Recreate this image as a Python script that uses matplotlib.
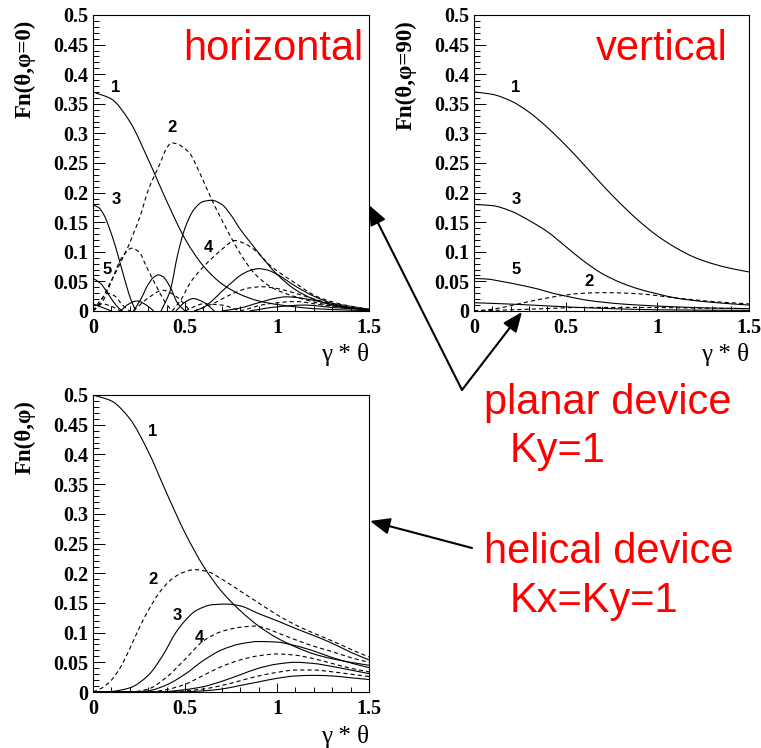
import numpy as np
import matplotlib
matplotlib.use('Agg')
import matplotlib.pyplot as plt
from matplotlib.patches import FancyArrowPatch, PathPatch
from matplotlib.path import Path
from matplotlib.ticker import MultipleLocator, FuncFormatter

# ---- panel 1: planar, horizontal (phi=0) ----
h1_x = [0, 0.1, 0.2, 0.3, 0.4, 0.5, 0.6, 0.7, 0.8, 0.9, 1.0, 1.1, 1.2, 1.35, 1.5]
h1_y = [0.370, 0.358, 0.320, 0.256, 0.186, 0.122, 0.076, 0.046, 0.028, 0.017, 0.011, 0.007, 0.004, 0.002, 0.0005]
h3_x = [0, 0.03, 0.06, 0.09, 0.12, 0.15, 0.18, 0.205, 0.23]
h3_y = [0.179, 0.175, 0.162, 0.139, 0.111, 0.078, 0.045, 0.020, 0.002]
h5_x = [0, 0.04, 0.08, 0.11, 0.14, 0.16]
h5_y = [0.055, 0.047, 0.030, 0.016, 0.005, 0.0]
h7_x = [0, 0.05, 0.1]
h7_y = [0.012, 0.006, 0.0]
hsa_x = [0.22, 0.26, 0.3, 0.33, 0.355, 0.38, 0.42, 0.46, 0.5]
hsa_y = [0.0, 0.02, 0.045, 0.057, 0.061, 0.058, 0.04, 0.013, 0.0]
hsb_x = [0.37, 0.42, 0.46, 0.5, 0.55, 0.6, 0.645, 0.7, 0.75, 0.8, 0.85, 0.9, 1.0, 1.1, 1.2, 1.33, 1.5]
hsb_y = [0.0, 0.035, 0.095, 0.14, 0.172, 0.185, 0.187, 0.18, 0.162, 0.138, 0.118, 0.098, 0.062, 0.036, 0.020, 0.008, 0.002]
hsc_x = [0.55, 0.6, 0.65, 0.7, 0.75, 0.8, 0.85, 0.9, 0.95, 1.0, 1.1, 1.2, 1.3, 1.4, 1.5]
hsc_y = [0.0, 0.006, 0.018, 0.033, 0.047, 0.06, 0.068, 0.0715, 0.069, 0.062, 0.042, 0.025, 0.013, 0.006, 0.002]
hsd_x = [0.7, 0.8, 0.9, 1.0, 1.05, 1.1, 1.2, 1.3, 1.4, 1.5]
hsd_y = [0.0, 0.005, 0.014, 0.022, 0.024, 0.023, 0.018, 0.011, 0.005, 0.002]
hse_x = [0.15, 0.19, 0.24, 0.29, 0.33]
hse_y = [0.0, 0.011, 0.017, 0.010, 0.0]
hsf_x = [0.45, 0.5, 0.545, 0.6, 0.66]
hsf_y = [0.0, 0.015, 0.021, 0.015, 0.0]
hsg_x = [0.85, 1.0, 1.15, 1.3, 1.5]
hsg_y = [0.0, 0.007, 0.010, 0.006, 0.002]

h2_x = [0, 0.03, 0.056, 0.092, 0.125, 0.156, 0.19, 0.22, 0.255, 0.3, 0.364, 0.4, 0.427, 0.46, 0.5,
        0.527, 0.57, 0.618, 0.67, 0.727, 0.763, 0.806, 0.879, 0.97, 1.1, 1.28, 1.5]
h2_y = [0, 0.01, 0.024, 0.047, 0.066, 0.086, 0.108, 0.131, 0.159, 0.204, 0.249, 0.275, 0.284, 0.282, 0.274,
        0.266, 0.24, 0.207, 0.172, 0.138, 0.117, 0.094, 0.063, 0.040, 0.024, 0.010, 0.002]
h4a_x = [0, 0.05, 0.1, 0.156, 0.21, 0.25, 0.29, 0.346, 0.39, 0.43]
h4a_y = [0, 0.015, 0.05, 0.09, 0.106, 0.1, 0.075, 0.041, 0.016, 0.0]
h4b_x = [0.43, 0.48, 0.527, 0.58, 0.636, 0.708, 0.77, 0.83, 0.879, 0.97, 1.1, 1.22, 1.37, 1.5]
h4b_y = [0.0, 0.02, 0.047, 0.068, 0.086, 0.106, 0.119, 0.113, 0.103, 0.075, 0.047, 0.024, 0.010, 0.003]
h6a_x = [0, 0.04, 0.08, 0.12, 0.16, 0.2]
h6a_y = [0, 0.018, 0.030, 0.025, 0.010, 0]
h6b_x = [0.22, 0.3, 0.38, 0.45, 0.53]
h6b_y = [0, 0.022, 0.035, 0.025, 0]
h6c_x = [0.55, 0.65, 0.75, 0.85, 0.92, 1.0, 1.1, 1.25, 1.5]
h6c_y = [0, 0.012, 0.028, 0.039, 0.041, 0.038, 0.030, 0.016, 0.003]
h8a_x = [0, 0.05, 0.1, 0.15]
h8a_y = [0, 0.012, 0.008, 0]
h8b_x = [0.5, 0.6, 0.7, 0.8]
h8b_y = [0, 0.012, 0.010, 0]
h8c_x = [0.8, 0.95, 1.1, 1.25, 1.5]
h8c_y = [0, 0.012, 0.016, 0.010, 0.002]

# ---- panel 2: planar, vertical (phi=90) ----
v1_x = [0, 0.1, 0.2, 0.3, 0.4, 0.5, 0.6, 0.7, 0.8, 0.9, 1.0, 1.1, 1.2, 1.3, 1.4, 1.5]
v1_y = [0.37, 0.366, 0.355, 0.336, 0.31, 0.28, 0.247, 0.213, 0.181, 0.152, 0.127, 0.107, 0.091, 0.08, 0.072, 0.066]
v3_x = [0, 0.1, 0.2, 0.3, 0.4, 0.5, 0.6, 0.7, 0.8, 0.9, 1.0, 1.1, 1.25, 1.5]
v3_y = [0.18, 0.178, 0.169, 0.153, 0.134, 0.109, 0.084, 0.063, 0.048, 0.037, 0.029, 0.022, 0.016, 0.010]
v5_x = [0, 0.07, 0.15, 0.25, 0.35, 0.43, 0.52, 0.6, 0.7, 0.8, 0.9, 1.1, 1.3, 1.5]
v5_y = [0.055, 0.054, 0.05, 0.044, 0.037, 0.030, 0.024, 0.019, 0.015, 0.012, 0.010, 0.007, 0.005, 0.004]
v7_x = [0, 0.25, 0.5, 0.75, 1.0, 1.5]
v7_y = [0.014, 0.011, 0.007, 0.004, 0.002, 0.001]
v2_x = [0, 0.1, 0.2, 0.3, 0.4, 0.5, 0.6, 0.7, 0.8, 0.9, 1.0, 1.1, 1.2, 1.3, 1.4, 1.5]
v2_y = [0, 0.003, 0.009, 0.016, 0.022, 0.027, 0.030, 0.031, 0.0305, 0.029, 0.026, 0.022, 0.019, 0.016, 0.014, 0.012]
v4_x = [0, 0.3, 0.6, 0.9, 1.2, 1.5]
v4_y = [0, 0.003, 0.006, 0.006, 0.005, 0.004]

# ---- panel 3: helical Kx=Ky=1 ----
c1_x = [0, 0.1, 0.2, 0.3, 0.4, 0.5, 0.6, 0.7, 0.8, 0.9, 1.0, 1.1, 1.2, 1.3, 1.4, 1.5]
c1_y = [0.5, 0.49, 0.46, 0.405, 0.335, 0.268, 0.212, 0.169, 0.137, 0.111, 0.091, 0.076, 0.064, 0.056, 0.05, 0.045]
c3_x = [0, 0.1, 0.2, 0.3, 0.38, 0.45, 0.5, 0.56, 0.65, 0.73, 0.8, 0.9, 1.0, 1.1, 1.2, 1.3, 1.4, 1.5]
c3_y = [0, 0.001, 0.007, 0.028, 0.062, 0.1, 0.12, 0.137, 0.147, 0.148, 0.145, 0.132, 0.12, 0.107, 0.095, 0.082, 0.067, 0.054]
c5_x = [0, 0.2, 0.3, 0.4, 0.5, 0.6, 0.7, 0.8, 0.9, 1.0, 1.1, 1.2, 1.3, 1.4, 1.5]
c5_y = [0, 0, 0.002, 0.012, 0.03, 0.053, 0.071, 0.081, 0.085, 0.084, 0.078, 0.069, 0.058, 0.049, 0.041]
c7_x = [0, 0.35, 0.5, 0.6, 0.7, 0.8, 0.9, 1.0, 1.1, 1.2, 1.3, 1.4, 1.5]
c7_y = [0, 0, 0.004, 0.009, 0.018, 0.029, 0.04, 0.047, 0.05, 0.048, 0.043, 0.037, 0.031]
c9_x = [0, 0.45, 0.6, 0.7, 0.8, 0.9, 1.0, 1.1, 1.2, 1.3, 1.4, 1.5]
c9_y = [0, 0, 0.002, 0.005, 0.011, 0.017, 0.023, 0.027, 0.028, 0.027, 0.024, 0.021]
c2_x = [0, 0.05, 0.1, 0.15, 0.2, 0.25, 0.3, 0.36, 0.42, 0.48, 0.55, 0.62, 0.7, 0.8, 0.9, 1.0, 1.1, 1.2, 1.3, 1.4, 1.5]
c2_y = [0, 0.007, 0.02, 0.042, 0.073, 0.107, 0.137, 0.167, 0.188, 0.2, 0.206, 0.203, 0.19, 0.17, 0.15, 0.13, 0.113, 0.099, 0.086, 0.072, 0.059]
c4_x = [0, 0.2, 0.3, 0.4, 0.5, 0.6, 0.7, 0.8, 0.88, 0.95, 1.0, 1.1, 1.2, 1.3, 1.4, 1.5]
c4_y = [0, 0, 0.005, 0.025, 0.055, 0.086, 0.102, 0.109, 0.111, 0.106, 0.1, 0.088, 0.077, 0.068, 0.058, 0.05]
c6_x = [0, 0.3, 0.4, 0.5, 0.6, 0.7, 0.8, 0.9, 1.0, 1.1, 1.2, 1.3, 1.4, 1.5]
c6_y = [0, 0, 0.004, 0.013, 0.028, 0.043, 0.054, 0.061, 0.064, 0.062, 0.056, 0.048, 0.04, 0.034]
c8_x = [0, 0.4, 0.5, 0.6, 0.7, 0.8, 0.9, 1.0, 1.1, 1.2, 1.3, 1.4, 1.5]
c8_y = [0, 0, 0.002, 0.005, 0.011, 0.019, 0.027, 0.033, 0.037, 0.037, 0.034, 0.03, 0.026]

W, H = 761, 748
plt.rcParams['lines.scale_dashes'] = False
plt.rcParams['font.family'] = 'Liberation Serif'
plt.rcParams['font.weight'] = 'bold'
plt.rcParams['font.size'] = 14.5
sans = 'Liberation Sans'
solid = '-'
dash = (0, (3.0, 2.2))


def fx(px):
    return px / W


def fy(py):
    return 1 - py / H


def smooth_path(x, y):
    # monotone cubic (Fritsch-Carlson) tangents, drawn as Bezier segments through the read points
    x = np.asarray(x, float)
    y = np.asarray(y, float)
    h = np.diff(x)
    d = np.diff(y) / h
    m = np.zeros_like(y)
    m[0], m[-1] = d[0], d[-1]
    for k in range(1, len(x) - 1):
        if d[k - 1] * d[k] > 0:
            w1 = 2 * h[k] + h[k - 1]
            w2 = h[k] + 2 * h[k - 1]
            m[k] = (w1 + w2) / (w1 / d[k - 1] + w2 / d[k])
    verts = [(x[0], y[0])]
    codes = [Path.MOVETO]
    for k in range(len(h)):
        verts += [(x[k] + h[k] / 3, y[k] + m[k] * h[k] / 3),
                  (x[k + 1] - h[k] / 3, y[k + 1] - m[k + 1] * h[k] / 3),
                  (x[k + 1], y[k + 1])]
        codes += [Path.CURVE4] * 3
    return Path(verts, codes)


def setup(ax, ylabel):
    ax.set_xlim(0, 1.5)
    ax.set_ylim(0, 0.5)
    ax.xaxis.set_major_locator(MultipleLocator(0.5))
    ax.xaxis.set_minor_locator(MultipleLocator(0.1))
    ax.yaxis.set_major_locator(MultipleLocator(0.05))
    ax.yaxis.set_minor_locator(MultipleLocator(0.01))
    fmt = FuncFormatter(lambda v, p: '%g' % round(v, 3))
    ax.xaxis.set_major_formatter(fmt)
    ax.yaxis.set_major_formatter(fmt)
    ax.tick_params(axis='y', which='major', direction='in', length=8.5, width=0.7, pad=3.5)
    ax.tick_params(axis='y', which='minor', direction='in', length=4.3, width=0.7)
    ax.tick_params(axis='x', which='major', direction='in', length=6.5, width=0.7, pad=5)
    ax.tick_params(axis='x', which='minor', direction='in', length=3.3, width=0.7)
    for s in ax.spines.values():
        s.set_linewidth(0.8)
    ax.text(-68 / 276, 1 - 5 / 296, ylabel, transform=ax.transAxes, rotation=90,
            ha='center', va='top', fontweight='bold', fontsize=16.5)
    ax.text(1.0, -44 / 296, 'γ * θ', transform=ax.transAxes, ha='right', va='center',
            fontweight='normal', fontsize=18)


def draw(ax, curves):
    for x, y, ls in curves:
        ax.add_patch(PathPatch(smooth_path(x, y), fill=False, edgecolor='black', lw=0.8, linestyle=ls))


fig = plt.figure(figsize=(W / 100, H / 100), dpi=100)
ax1 = fig.add_axes([fx(93), fy(311), 276 / W, 296 / H])
ax2 = fig.add_axes([fx(474), fy(311), 275 / W, 296 / H])
ax3 = fig.add_axes([fx(93), fy(692), 276 / W, 297 / H])

draw(ax1, [(h1_x, h1_y, solid), (h3_x, h3_y, solid), (h5_x, h5_y, solid), (h7_x, h7_y, solid),
           (hsa_x, hsa_y, solid), (hsb_x, hsb_y, solid), (hsc_x, hsc_y, solid), (hsd_x, hsd_y, solid),
           (hse_x, hse_y, solid), (hsf_x, hsf_y, solid), (hsg_x, hsg_y, solid),
           (h2_x, h2_y, dash), (h4a_x, h4a_y, dash), (h4b_x, h4b_y, dash), (h6a_x, h6a_y, dash),
           (h6b_x, h6b_y, dash), (h6c_x, h6c_y, dash), (h8a_x, h8a_y, dash), (h8b_x, h8b_y, dash),
           (h8c_x, h8c_y, dash)])
draw(ax2, [(v1_x, v1_y, solid), (v3_x, v3_y, solid), (v5_x, v5_y, solid), (v7_x, v7_y, solid),
           (v2_x, v2_y, dash), (v4_x, v4_y, dash)])
draw(ax3, [(c1_x, c1_y, solid), (c3_x, c3_y, solid), (c5_x, c5_y, solid), (c7_x, c7_y, solid),
           (c9_x, c9_y, solid), (c2_x, c2_y, dash), (c4_x, c4_y, dash), (c6_x, c6_y, dash),
           (c8_x, c8_y, dash)])

setup(ax1, 'Fn(θ,φ=0)')
setup(ax2, 'Fn(θ,φ=90)')
setup(ax3, 'Fn(θ,φ)')

# harmonic numbers (figure pixels)
num_labels = [('1', 116, 87), ('2', 172, 127), ('3', 116, 199), ('4', 208, 247), ('5', 107, 269),
              ('1', 516, 87), ('3', 516, 199), ('5', 516, 269), ('2', 589, 282),
              ('1', 153, 432), ('2', 153, 580), ('3', 177, 616), ('4', 199, 638)]
for t, px, py in num_labels:
    fig.text(fx(px), fy(py), t, ha='center', va='center', fontfamily=sans,
             fontweight='bold', fontsize=12)

red = '#ff0000'
red_texts = [('horizontal', 363, 60, 'right'), ('vertical', 728, 60, 'right'),
             ('planar device', 484, 414, 'left'), ('Ky=1', 510, 462, 'left'),
             ('helical device', 484, 563, 'left'), ('Kx=Ky=1', 510, 612, 'left')]
for t, px, py, ha in red_texts:
    fig.text(fx(px), fy(py), t, ha=ha, va='baseline', color=red, fontfamily=sans,
             fontweight='normal', fontsize=30)

arrows = [((462, 390), (369, 205)), ((462, 390), (522, 312)), ((472, 548), (370, 521))]
for (x0, y0), (x1, y1) in arrows:
    fig.add_artist(FancyArrowPatch((fx(x0), fy(y0)), (fx(x1), fy(y1)), transform=fig.transFigure,
                                   arrowstyle='-|>,head_length=1.2,head_width=0.5', mutation_scale=10,
                                   lw=1.5, color='black', shrinkA=0, shrinkB=0))

fig.savefig('out.png', dpi=100)
